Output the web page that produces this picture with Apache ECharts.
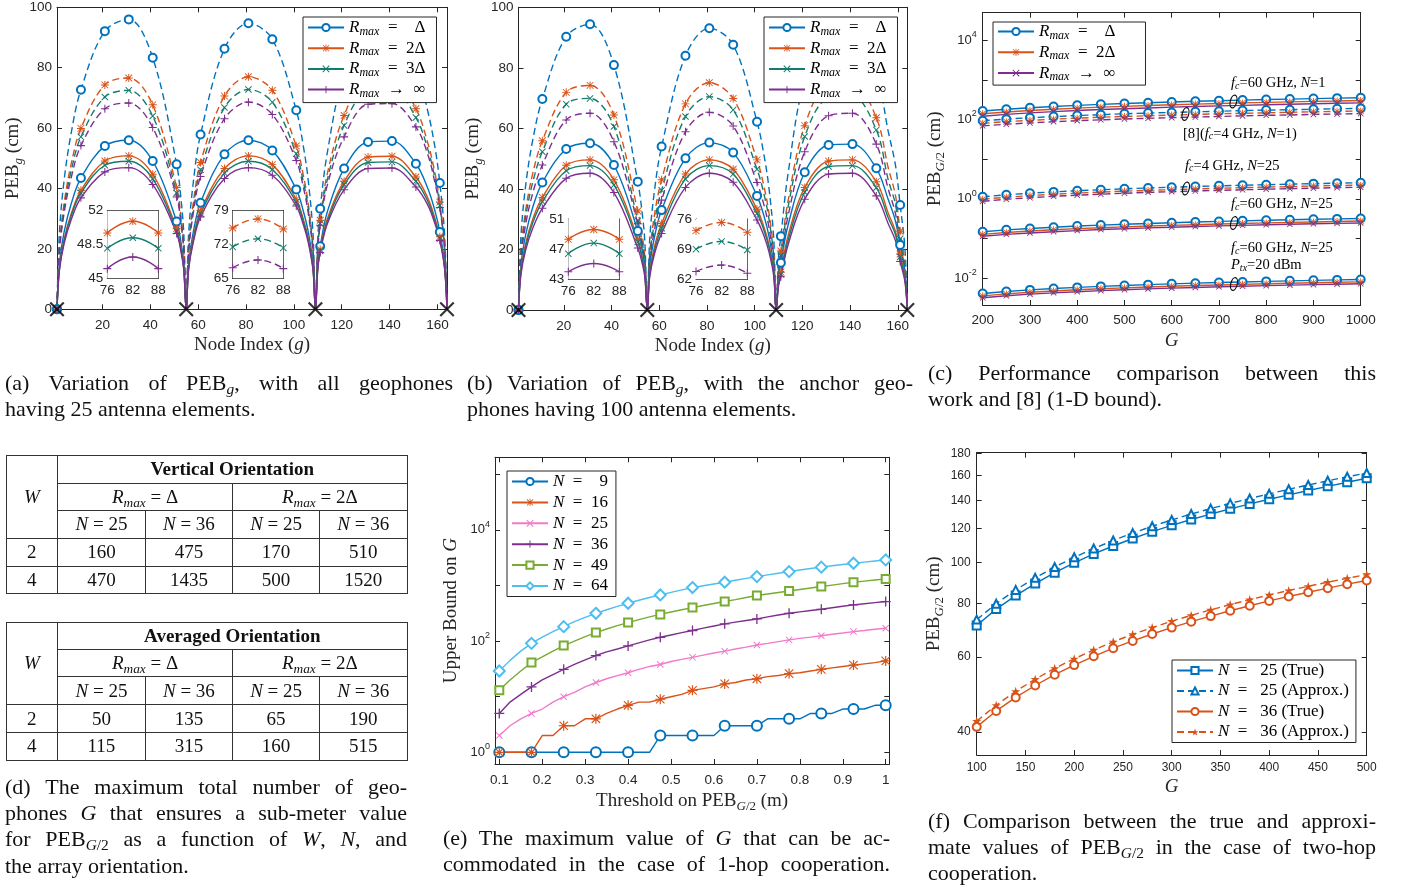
<!DOCTYPE html>
<html>
<head>
<meta charset="utf-8">
<script src="https://cdn.jsdelivr.net/npm/echarts@6/dist/echarts.min.js"></script>
<style>
html,body{margin:0;padding:0;background:#fff;width:1404px;height:888px;overflow:hidden;}
#chart{position:absolute;left:0;top:0;width:1404px;height:888px;}
.cap{position:absolute;font-family:'Liberation Serif','Times New Roman',serif;font-size:22px;line-height:26.4px;color:#111;}
.cap div{white-space:nowrap;}
.cap .j{text-align:justify;text-align-last:justify;}
.cap sub,.tb sub{font-size:0.7em;vertical-align:-0.28em;line-height:0;}
.tb{position:absolute;border-collapse:collapse;font-family:'Liberation Serif','Times New Roman',serif;font-size:19px;color:#111;table-layout:fixed;}
.tb td{border:1.3px solid #333;text-align:center;padding:0;}
</style>
</head>
<body>
<div id="chart"></div>
<div id="tables"></div>

<div class="cap" style="left:5px;top:369.5px;width:448px">
 <div class="j">(a) Variation of PEB<sub><i>g</i></sub>, with all geophones</div>
 <div>having 25 antenna elements.</div>
</div>
<div class="cap" style="left:467px;top:369.5px;width:446px">
 <div class="j">(b) Variation of PEB<sub><i>g</i></sub>, with the anchor geo-</div>
 <div>phones having 100 antenna elements.</div>
</div>
<div class="cap" style="left:928px;top:359.5px;width:448px">
 <div class="j">(c) Performance comparison between this</div>
 <div>work and [8] (1-D bound).</div>
</div>
<div class="cap" style="left:5px;top:773.5px;width:402px">
 <div class="j">(d) The maximum total number of geo-</div>
 <div class="j">phones <i>G</i> that ensures a sub-meter value</div>
 <div class="j">for PEB<sub><i>G</i>/2</sub> as a function of <i>W</i>, <i>N</i>, and</div>
 <div>the array orientation.</div>
</div>
<div class="cap" style="left:443px;top:824.5px;width:447px">
 <div class="j">(e) The maximum value of <i>G</i> that can be ac-</div>
 <div class="j">commodated in the case of 1-hop cooperation.</div>
</div>
<div class="cap" style="left:928px;top:807.5px;width:448px">
 <div class="j">(f) Comparison between the true and approxi-</div>
 <div class="j">mate values of PEB<sub><i>G</i>/2</sub> in the case of two-hop</div>
 <div>cooperation.</div>
</div>

<script>
// ===================== DATA =====================
// (a),(b): node index grid (markers every 10 nodes), anchors
const NODE_X = [1,2,4,7,11,21,31,41,51,53,54,55,56,58,61,71,81,91,101,104,106,108,109,110,111,114,121,131,141,151,156,159,161,163,164];
const ANCHORS = [1,55,109,164];
// (a) dashed
const A_DB = [0,25.2,42.9,58.7,72.7,92.1,96.0,83.3,48.0,35.1,24.9,0,24.8,42.3,57.9,86.3,94.7,89.4,65.9,53.8,42.7,25.0,0,23.8,33.3,52.0,78,93,94,80,65.5,53.5,41.8,24.6,0];
const A_DO = [0,20.7,35.3,48.4,59.9,74.3,76.6,67.7,40.3,29.5,20.9,0,20.8,35.5,48.6,70.6,77.0,72.5,54.1,44.2,35.1,20.6,0,21.1,29.5,45.0,64.2,77.0,77.5,66.4,55.0,45.0,35.5,20.9,0];
const A_DG = [0,19.8,33.7,46.1,57.1,70.3,72.5,64.0,38.5,28.1,20.0,0,19.8,33.7,46.2,66.8,72.8,68.6,51.5,42.1,33.4,19.6,0,20.3,28.4,43.0,60.9,72.5,73.0,63.5,53.0,43.3,34.4,20.2,0];
const A_DP = [0,18.8,32.0,43.8,54.2,66.4,68.3,60.2,37.2,27.2,19.3,0,18.9,32.1,44.0,63.1,68.6,64.5,49.3,40.3,31.9,18.7,0,19.8,27.8,41.2,57.1,67.9,68.1,60.4,51.2,41.8,33.7,19.8,0];
// (a) solid
const A_SB = [0,15.1,25.7,35.1,43.5,54.1,56.0,49.1,29.1,21.3,15.1,0,15.1,25.8,35.3,51.3,56.0,52.6,39.7,32.4,25.7,15.1,0,14.9,20.9,32.3,46.6,55.4,55.7,48.2,40.0,32.5,25.6,15.1,0];
const A_SO = [0,13.6,23.2,31.8,39.4,49.1,50.8,44.7,26.7,19.5,13.9,0,14.0,23.8,32.6,46.6,50.8,47.9,36.4,29.7,23.6,13.8,0,14.1,19.8,30.0,42.4,50.4,50.7,43.8,36.8,30.0,24.0,14.1,0];
const A_SG = [0,13.3,22.7,31.1,38.5,47.7,49.0,43.2,25.9,18.9,13.4,0,13.6,23.1,31.7,45.1,49.0,46.3,35.5,29.0,23.0,13.5,0,13.8,19.3,29.2,41.3,48.6,48.8,42.4,35.7,29.2,23.4,13.8,0];
const A_SP = [0,12.8,21.8,29.8,36.9,45.5,46.9,41.3,25.1,18.3,13.0,0,13.1,22.3,30.6,43.3,46.9,44.4,34.2,27.9,22.2,13.0,0,13.4,18.8,28.3,39.6,46.6,46.8,40.5,34.5,28.2,22.8,13.4,0];
// (b) dashed
const B_DB = [0,24.1,41.1,56.3,69.7,90.3,94.4,80.9,42.4,31.0,22.0,0,23.2,39.4,54.0,84.0,93.1,87.6,62.2,50.8,40.3,23.6,0,17.4,24.4,45.0,76,91,92,78,59,48,34.7,20.4,0];
const B_DO = [0,19.3,33.0,45.2,55.9,71.9,74.2,64.4,32.7,23.9,17.0,0,18.4,31.4,43.0,68.1,75.1,69.9,49.6,40.5,32.1,18.8,0,13.9,19.5,36.0,60.9,74.5,75.0,63.5,47,38,26.0,15.3,0];
const B_DG = [0,18.1,30.9,42.3,52.3,68.0,69.9,60.6,29.5,21.6,15.3,0,17.0,28.9,39.6,63.9,70.5,66.1,46.5,38.0,30.1,17.7,0,12.9,18.0,34.0,57.3,70.0,70.5,59.5,43,35,23.5,13.8,0];
const B_DP = [0,16.6,28.3,38.7,47.9,62.8,65.0,55.6,28.5,20.8,14.8,0,15.6,26.5,36.3,58.9,65.3,60.8,42.1,34.4,27.3,16.0,0,11.8,16.5,31.0,52.3,64.2,65.0,54.8,40,32,21.5,12.6,0];
// (b) solid
const B_SB = [0,14.6,24.8,34.0,42.1,53.2,55.1,47.9,26.1,19.1,13.5,0,14.2,24.1,33.0,50.1,55.3,52.0,37.7,30.8,24.4,14.3,0,11.1,15.6,28.0,45.5,54.5,54.8,46.8,36.5,29.5,21.5,12.6,0];
const B_SO = [0,12.9,21.9,30.1,37.2,47.8,49.6,43.0,23.5,17.2,12.2,0,12.3,20.9,28.6,44.9,49.6,46.5,33.3,27.2,21.6,12.7,0,8.9,12.5,24.5,40.5,49.2,49.6,42.4,32,26,18.5,10.9,0];
const B_SG = [0,12.4,21.1,28.9,35.8,46.0,47.7,41.3,22.5,16.4,11.7,0,11.6,19.7,27.0,43.3,47.7,44.9,31.9,26.1,20.7,12.1,0,8.4,11.8,23.0,38.9,47.4,47.7,40.4,30.5,25,17.5,10.3,0];
const B_SP = [0,11.6,19.8,27.1,33.6,43.5,45.2,38.8,20.5,15.0,10.6,0,10.9,18.5,25.3,40.5,45.2,42.2,29.7,24.3,19.2,11.3,0,7.9,11.0,21.5,36.6,44.9,45.2,37.7,28.5,23,16.0,9.4,0];
// insets (zoom on node 76..88)
const INSET_X = [76,82,88];
const IA_SO = [49.7,50.9,49.7], IA_SG = [48.1,49.2,48.1], IA_SP = [46.0,47.2,46.0];
const IA_DO = [75.4,77.3,75.2], IA_DG = [71.5,73.2,71.3], IA_DP = [67.2,68.8,67.0];
const IB_SO = [48.3,49.6,48.3], IB_SG = [46.4,47.8,46.4], IB_SP = [44.0,45.1,44.0];
const IB_DO = [73.3,75.2,72.9], IB_DG = [69.0,70.8,68.8], IB_DP = [63.8,65.3,63.4];

// (c)
const C_G = [200,250,300,350,400,450,500,550,600,650,700,750,800,850,900,950,1000];
const C1_B = [163,181,198,213,227,240,252,264,276,287,297,307,317,326,335,344,353];
const C1_O = [139,154,168,181,193,204,214,224,235,244,252,261,269,277,285,292,300];
const C1_P = [121,134,147,158,168,178,186,195,204,212,220,227,235,241,248,255,261];
const C2_B = [93,102,111,118,126,132,139,145,150,156,161,167,172,176,181,186,190];
const C2_O = [80,88,95,102,108,114,119,124,129,134,139,143,147,152,156,160,163];
const C2_P = [69,76,82,88,93,98,103,107,111,115,119,123,127,130,134,137,141];
const C3_B = [1.13,1.27,1.39,1.50,1.61,1.70,1.80,1.89,1.97,2.05,2.13,2.21,2.28,2.35,2.42,2.49,2.55];
const C3_O = [0.98,1.10,1.21,1.31,1.40,1.48,1.57,1.64,1.71,1.78,1.85,1.92,1.98,2.04,2.11,2.17,2.22];
const C3_P = [0.87,0.98,1.07,1.16,1.24,1.31,1.39,1.46,1.52,1.58,1.64,1.70,1.76,1.81,1.86,1.92,1.96];
const C4_B = [0.149,0.166,0.180,0.194,0.207,0.219,0.230,0.241,0.251,0.261,0.271,0.280,0.289,0.298,0.306,0.314,0.322];
const C4_O = [0.128,0.143,0.155,0.167,0.178,0.188,0.198,0.207,0.216,0.224,0.233,0.241,0.249,0.256,0.263,0.270,0.277];
const C4_P = [0.115,0.128,0.139,0.149,0.159,0.169,0.177,0.186,0.193,0.201,0.209,0.216,0.223,0.229,0.236,0.242,0.248];
const C5_B = [0.00416,0.00466,0.00511,0.00553,0.00591,0.00627,0.00661,0.00694,0.00725,0.00755,0.00784,0.00811,0.00838,0.00864,0.00889,0.00913,0.00937];
const C5_O = [0.00362,0.00405,0.00445,0.00481,0.00514,0.00545,0.00575,0.00604,0.00631,0.00657,0.00682,0.00706,0.00729,0.00752,0.00773,0.00794,0.00815];
const C5_P = [0.00324,0.00363,0.00399,0.00431,0.00461,0.00489,0.00516,0.00541,0.00566,0.00589,0.00612,0.00633,0.00654,0.00674,0.00693,0.00712,0.00731];

// (e)
const E_TH = [0.1,0.125,0.15,0.175,0.2,0.225,0.25,0.275,0.3,0.325,0.35,0.375,0.4,0.425,0.45,0.475,0.5,0.525,0.55,0.575,0.6,0.625,0.65,0.675,0.7,0.725,0.75,0.775,0.8,0.825,0.85,0.875,0.9,0.925,0.95,0.975,1.0];
const E_N9  = [1,1,1,1,1,1,1,1,1,1,1,1,1,1,1,2,2,2,2,2,2,3,3,3,3,4,4,4,4,5,5,5,6,6,6,7,7];
const E_N16 = [1,1,1,1,2,2,3,3,4,4,5,6,7,8,8,9,10,11,13,14,15,17,18,20,21,23,24,26,27,29,31,33,35,37,39,41,44];
const E_N25 = [2,3,4,5,6,8,10,12,15,18,21,24,27,31,35,38,43,47,51,56,61,66,72,78,85,91,98,105,112,118,125,133,140,148,155,163,170];
const E_N36 = [5,8,11,15,20,25,31,38,46,55,64,72,82,93,105,117,129,142,155,171,187,204,219,234,250,272,294,316,335,354,373,398,423,448,470,492,514];
const E_N49 = [13,20,29,41,52,66,83,100,120,142,165,190,215,243,272,302,333,366,400,437,475,514,558,607,659,703,749,797,849,902,957,1017,1080,1146,1200,1255,1313];
const E_N64 = [29,45,66,91,118,148,182,223,268,316,366,420,479,542,607,676,753,833,917,990,1066,1146,1240,1340,1444,1550,1662,1778,1895,2015,2138,2260,2385,2512,2635,2760,2884];
const E_XTICKS = [0.1,0.2,0.3,0.4,0.5,0.6,0.7,0.8,0.9,1];

// (f)
const F_G = [100,120,140,160,180,200,220,240,260,280,300,320,340,360,380,400,420,440,460,480,500];
const F_N25_TRUE   = [71.1,77.7,83.6,89.2,94.6,99.8,104.7,109.3,113.8,118.1,122.2,126.1,129.9,133.6,137.2,140.7,144.1,147.5,150.9,154.3,157.6];
const F_N25_APPROX = [73.4,80.0,86.2,92.0,97.5,102.8,107.8,112.6,117.2,121.6,125.8,129.9,133.8,137.6,141.3,144.9,148.5,152.0,155.5,158.9,162.2];
const F_N36_TRUE   = [41.1,44.8,48.2,51.4,54.5,57.4,60.2,62.9,65.4,67.9,70.3,72.6,74.8,77.0,79.1,81.2,83.2,85.1,87.0,88.9,90.7];
const F_N36_APPROX = [42.4,46.2,49.8,53.2,56.4,59.4,62.3,65.1,67.8,70.3,72.8,75.1,77.4,79.6,81.8,83.9,85.9,87.9,89.9,91.8,93.7];
const F_YTICKS = [40,60,80,100,120,140,160,180];

// (d) tables
const TAB_W = [2,4];
const TAB_R = ['Δ','2Δ'];
const TAB_N = [25,36,25,36];
const TAB_VERT = [[160,475,170,510],[470,1435,500,1520]];
const TAB_AVG  = [[50,135,65,190],[115,315,160,515]];

// ===================== STYLE =====================
const BLUE='#0072BD', ORANGE='#D95319', TEAL='#137C6C', PURPLE='#7E2F8E', GREEN='#77AC30', CYAN='#4DBEEE', PINK='#F27ACB';
const AX='#262626';
const SANS="'Liberation Sans', Arial, sans-serif";
const SERIF="'Liberation Serif', 'Times New Roman', serif";
const SYM_PLUS='path://M4.35,0H5.65V10H4.35Z M0,4.35H10V5.65H0Z';
const SYM_X='path://M1,0L5,4L9,0L10,1L6,5L10,9L9,10L5,6L1,10L0,9L4,5L0,1Z';
const SYM_AST='path://M4.4,0H5.6V10H4.4Z M0,4.4H10V5.6H0Z M1.2,0.4L9.6,8.8L8.8,9.6L0.4,1.2Z M8.8,0.4L9.6,1.2L1.2,9.6L0.4,8.8Z';
const SYM_STAR='path://M5,0L6.2,3.6L10,3.6L6.9,5.9L8.1,9.5L5,7.3L1.9,9.5L3.1,5.9L0,3.6L3.8,3.6Z';

const grids=[], xAxes=[], yAxes=[], series=[], legends=[], graphics=[];
const nameRich = {
  t:{fontFamily:SERIF,fontSize:19,lineHeight:24,color:AX},
  i:{fontFamily:SERIF,fontStyle:'italic',fontSize:19,lineHeight:24,color:AX},
  s:{fontFamily:SERIF,fontStyle:'italic',fontSize:13,lineHeight:13,verticalAlign:'bottom',color:AX},
  u:{fontFamily:SERIF,fontSize:13,lineHeight:13,verticalAlign:'bottom',color:AX}
};
const supRich = {
  b:{fontFamily:SANS,fontSize:13,lineHeight:20,color:AX},
  p:{fontFamily:SANS,fontSize:9,lineHeight:9,verticalAlign:'top',color:AX}
};
function logFmt(v){
  const e=Math.log10(v), r=Math.round(e);
  if (Math.abs(e-r)>1e-6 || r%2!==0) return '';
  return '{b|10}{p|'+r+'}';
}
const plainFmt=(v)=>String(+(+v).toFixed(3));

function makeAxis(g,pos,s,primary){
  const a={gridIndex:g,position:pos,type:s.type||'value',min:s.min,max:s.max,
    axisLine:{show:true,onZero:false,lineStyle:{color:AX,width:1}},
    axisTick:{show:true,inside:true,length:s.tickLen||5,lineStyle:{color:AX,width:1}},
    splitLine:{show:false},minorTick:{show:false},
    axisLabel:{show:primary,color:AX,fontFamily:SANS,fontSize:s.fs||13.5,margin:s.margin||6,hideOverlap:false,formatter:plainFmt},
    silent:true,z:s.z||0};
  if (s.type==='log') a.logBase=10;
  if (s.interval!=null) a.interval=s.interval;
  if (s.ticks){a.axisTick.customValues=s.ticks;a.axisLabel.customValues=s.ticks;}
  if (s.fmt) a.axisLabel.formatter=s.fmt;
  if (s.rich) a.axisLabel.rich=s.rich;
  if (primary && s.name){a.name=s.name;a.nameLocation='middle';a.nameGap=s.nameGap;
    a.nameTextStyle={rich:nameRich,color:AX}; if(pos==='left') a.nameRotate=90;}
  return a;
}
function addPanel(left,top,width,height,xs,ys,bg){
  grids.push({left,top,width,height,containLabel:false,show:!!bg,backgroundColor:bg||'transparent',borderWidth:0,z:bg?3:0});
  const g=grids.length-1;
  const xi=xAxes.length, yi=yAxes.length;
  xAxes.push(makeAxis(g,'bottom',xs,true)); xAxes.push(makeAxis(g,'top',xs,false));
  yAxes.push(makeAxis(g,'left',ys,true)); yAxes.push(makeAxis(g,'right',ys,false));
  return {x:xi,y:yi};
}
function line(box,xs,ys,o){
  const data=xs.map((x,i)=>o.mark(x,i)?[x,ys[i]]:{value:[x,ys[i]],symbol:'none'});
  series.push({type:'line',name:o.name,xAxisIndex:box.x,yAxisIndex:box.y,data,
    smooth:o.smooth||false,symbol:o.sym,symbolSize:o.size,showAllSymbol:true,
    lineStyle:{color:o.color,width:1.4,type:o.dash?[7,4]:'solid'},
    itemStyle:{color:o.color,borderColor:o.color,borderWidth:o.bw||0},
    emphasis:{disabled:true},z:o.z||2,clip:true});
}
const RM=[{c:BLUE,s:'emptyCircle',z:8,bw:1.2},{c:ORANGE,s:SYM_AST,z:8,bw:0},{c:TEAL,s:SYM_X,z:7,bw:0},{c:PURPLE,s:SYM_PLUS,z:8,bw:0}];
const isNodeMarker=(x)=>(x-1)%10===0;
const all=()=>true;

const LEG={};
const legRich={
  it:{fontFamily:SERIF,fontStyle:'italic',fontSize:17,lineHeight:20,color:'#000'},
  sub:{fontFamily:SERIF,fontStyle:'italic',fontSize:12,lineHeight:12,verticalAlign:'bottom',color:'#000'},
  tx:{fontFamily:SERIF,fontSize:17,lineHeight:20,color:'#000'}
};
function addLegend(names,left,top,gap,pad){
  legends.push({show:true,orient:'vertical',left,top,itemGap:gap,itemWidth:36,itemHeight:9,padding:pad,
    backgroundColor:'#fff',borderColor:AX,borderWidth:1,borderRadius:0,selectedMode:false,align:'left',
    data:names,formatter:(n)=>LEG[n],textStyle:{fontFamily:SERIF,fontSize:17,color:'#000',rich:legRich},z:6});
}

// ---------- panels (a) and (b) ----------
function panelAB(p,L,T,W,H,dash,solid,inset1,inset2,ins){
  const xName='{t|Node Index (}{i|g}{t|)}';
  const box=addPanel(L,T,W,H,
    {min:1,max:164,ticks:[20,40,60,80,100,120,140,160],margin:9,name:xName,nameGap:24},
    {min:0,max:100,interval:20,margin:5,name:'{t|PEB}{s|g}{t| (cm)}',nameGap:p==='a'?32:33});
  for(let k=0;k<4;k++){
    line(box,NODE_X,dash[k],{name:p+'D'+k,mark:isNodeMarker,sym:RM[k].s,size:RM[k].z,color:RM[k].c,bw:RM[k].bw,dash:true,smooth:0.35});
  }
  for(let k=0;k<4;k++){
    line(box,NODE_X,solid[k],{name:p+'S'+k,mark:isNodeMarker,sym:RM[k].s,size:RM[k].z,color:RM[k].c,bw:RM[k].bw,smooth:0.35});
  }
  series.push({type:'scatter',xAxisIndex:box.x,yAxisIndex:box.y,data:ANCHORS.map(x=>[x,0]),
    symbol:SYM_X,symbolSize:15,itemStyle:{color:'#000'},z:6,clip:false,emphasis:{disabled:true}});
  // insets
  const b1=addPanel(ins[0][0],ins[0][1],ins[0][2],ins[0][3],{min:76,max:88,interval:6,tickLen:3,margin:5},
    {min:inset1.min,max:inset1.max,interval:inset1.iv,tickLen:3,margin:4},'#fff');
  const b2=addPanel(ins[1][0],ins[1][1],ins[1][2],ins[1][3],{min:76,max:88,interval:6,tickLen:3,margin:5},
    {min:inset2.min,max:inset2.max,interval:inset2.iv,tickLen:3,margin:4},'#fff');
  for(let k=1;k<4;k++){
    line(b1,INSET_X,inset1.d[k-1],{name:p+'I1'+k,mark:all,sym:RM[k].s,size:RM[k].z,color:RM[k].c,bw:RM[k].bw,smooth:0.5,z:5});
    line(b2,INSET_X,inset2.d[k-1],{name:p+'I2'+k,mark:all,sym:RM[k].s,size:RM[k].z,color:RM[k].c,bw:RM[k].bw,smooth:0.5,dash:true,z:5});
  }
  LEG[p+'S0']='{it|R}{sub|max}{tx|  =    Δ}';
  LEG[p+'S1']='{it|R}{sub|max}{tx|  =  2Δ}';
  LEG[p+'S2']='{it|R}{sub|max}{tx|  =  3Δ}';
  LEG[p+'S3']='{it|R}{sub|max}{tx|  →  ∞}';
}
panelAB('a',57,7.3,390,302,[A_DB,A_DO,A_DG,A_DP],[A_SB,A_SO,A_SG,A_SP],
  {min:45,max:52,iv:3.5,d:[IA_SO,IA_SG,IA_SP]},{min:65,max:79,iv:7,d:[IA_DO,IA_DG,IA_DP]},
  [[107.3,210.7,51,67.6],[232.7,210.7,50.6,67.6]]);
panelAB('b',518.5,7.3,388.8,302.7,[B_DB,B_DO,B_DG,B_DP],[B_SB,B_SO,B_SG,B_SP],
  {min:43,max:51,iv:4,d:[IB_SO,IB_SG,IB_SP]},{min:62,max:76,iv:7,d:[IB_DO,IB_DG,IB_DP]},
  [[568.3,219,51,60.3],[696,219,51.3,60.3]]);
addLegend(['aS0','aS1','aS2','aS3'],303,17,2.2,[2,11,3,4]);
addLegend(['bS0','bS1','bS2','bS3'],764,17,2.2,[2,11,3,4]);

// ---------- panel (c) ----------
const boxC=addPanel(982.7,12.7,378,292.3,
  {min:200,max:1000,interval:100,margin:8,name:'{i|G}',nameGap:24},
  {type:'log',min:0.00213,max:48800,fmt:logFmt,rich:supRich,margin:6,name:'{t|PEB}{s|G}{u|/2}{t| (cm)}',nameGap:36});
const cSty=[{c:BLUE,s:'emptyCircle',z:8,bw:1.1},{c:ORANGE,s:SYM_AST,z:7,bw:0},{c:PURPLE,s:SYM_X,z:6,bw:0}];
const cGroups=[[C1_B,C1_O,C1_P,false],[C2_B,C2_O,C2_P,true],[C3_B,C3_O,C3_P,true],[C4_B,C4_O,C4_P,false],[C5_B,C5_O,C5_P,false]];
cGroups.forEach((gr,gi)=>{
  for(let k=0;k<3;k++){
    line(boxC,C_G,gr[k],{name:'c'+gi+'_'+k,mark:all,sym:cSty[k].s,size:cSty[k].z,color:cSty[k].c,bw:cSty[k].bw,dash:gr[3]});
  }
});
LEG['c0_0']='{it|R}{sub|max}{tx|  =    Δ}';
LEG['c0_1']='{it|R}{sub|max}{tx|  =  2Δ}';
LEG['c0_2']='{it|R}{sub|max}{tx|  →  ∞}';
addLegend(['c0_0','c0_1','c0_2'],993,22,2.3,[1,30,2,4]);
const annRich={
  t:{fontFamily:SERIF,fontSize:14.5,color:'#111'},
  i:{fontFamily:SERIF,fontStyle:'italic',fontSize:14.5,color:'#111'},
  s:{fontFamily:SERIF,fontStyle:'italic',fontSize:10,lineHeight:10,verticalAlign:'bottom',color:'#111'}
};
[
 [1231,83.5,'{i|f}{s|c}{t|=60 GHz, }{i|N}{t|=1}'],
 [1183,134,'{t|[8](}{i|f}{s|c}{t|=4 GHz, }{i|N}{t|=1)}'],
 [1185,166,'{i|f}{s|c}{t|=4 GHz, }{i|N}{t|=25}'],
 [1231,204.5,'{i|f}{s|c}{t|=60 GHz, }{i|N}{t|=25}'],
 [1231,248.5,'{i|f}{s|c}{t|=60 GHz, }{i|N}{t|=25}'],
 [1231,265.5,'{i|P}{s|tx}{t|=20 dBm}']
].forEach(a=>graphics.push({type:'text',x:a[0],y:a[1],z:20,style:{text:a[2],rich:annRich,verticalAlign:'middle',align:'left'}}));
[[1233.5,101.5],[1185.5,114],[1186,188.5],[1234,223],[1234,284]].forEach(p=>graphics.push(
  {type:'ellipse',shape:{cx:p[0],cy:p[1],rx:3.2,ry:6.5},rotation:-0.25,originX:p[0],originY:p[1],
   style:{fill:'none',stroke:'#111',lineWidth:1.2},z:20}));

// ---------- panel (e) ----------
const boxE=addPanel(495,457.3,394.3,306.7,
  {min:0.09,max:1.0084,ticks:E_XTICKS,margin:9,
   name:'{t|Threshold on PEB}{s|G}{u|/2}{t| (m)}',nameGap:25},
  {type:'log',min:0.616,max:202000,fmt:logFmt,rich:supRich,margin:5,name:'{t|Upper Bound on }{i|G}',nameGap:32});
const eSer=[[E_N9,BLUE,'emptyCircle',10,1.2,'9'],[E_N16,ORANGE,SYM_AST,10,0,'16'],[E_N25,PINK,SYM_X,7,0,'25'],
  [E_N36,PURPLE,SYM_PLUS,10,0,'36'],[E_N49,GREEN,'emptyRect',8,1.2,'49'],[E_N64,CYAN,'emptyDiamond',11,1.2,'64']];
eSer.forEach((s,k)=>{
  line(boxE,E_TH,s[0],{name:'e'+k,mark:(x,i)=>i%3===0,sym:s[2],size:s[3],color:s[1],bw:s[4]});
  LEG['e'+k]='{it|N}{tx|  =  '+s[5].padStart(2,'\u2007')+'}';
});
addLegend(['e0','e1','e2','e3','e4','e5'],507,471,3.9,[2,8,2,4]);

// ---------- panel (f) ----------
const boxF=addPanel(976.7,452.7,390,302.3,
  {min:100,max:500,interval:50,fs:12,margin:7,name:'{i|G}',nameGap:20},
  {type:'log',min:35.3,max:181,ticks:F_YTICKS,fs:12,margin:6,name:'{t|PEB}{s|G}{u|/2}{t| (cm)}',nameGap:31});
line(boxF,F_G,F_N25_TRUE,{name:'f0',mark:all,sym:'emptyRect',size:8,color:BLUE,bw:1.2});
line(boxF,F_G,F_N25_APPROX,{name:'f1',mark:all,sym:'emptyTriangle',size:8,color:BLUE,bw:1.2,dash:true});
line(boxF,F_G,F_N36_TRUE,{name:'f2',mark:all,sym:'emptyCircle',size:8,color:ORANGE,bw:1.2});
line(boxF,F_G,F_N36_APPROX,{name:'f3',mark:all,sym:SYM_STAR,size:9,color:ORANGE,bw:0,dash:true});
LEG['f0']='{it|N}{tx|  =   25 (True)}';
LEG['f1']='{it|N}{tx|  =   25 (Approx.)}';
LEG['f2']='{it|N}{tx|  =   36 (True)}';
LEG['f3']='{it|N}{tx|  =   36 (Approx.)}';
addLegend(['f0','f1','f2','f3'],1172,660,3.5,[2,7,2,4]);

// ===================== CHART =====================
const chart=echarts.init(document.getElementById('chart'),null,{renderer:'canvas'});
chart.setOption({
  animation:false,
  backgroundColor:'#fff',
  textStyle:{fontFamily:SANS},
  grid:grids, xAxis:xAxes, yAxis:yAxes, series, legend:legends, graphic:graphics,
  tooltip:{show:false}
});

// ===================== TABLES =====================
function buildTable(title,vals,left,top){
  const cw=[51.6,87.7,87.3,87,87.4], rh=[27.7,27.3,27.7,28,27.6];
  let h='<table class="tb" style="left:'+left+'px;top:'+top+'px;width:401px"><colgroup>'+cw.map(w=>'<col style="width:'+w+'px">').join('')+'</colgroup>';
  h+='<tr style="height:'+rh[0]+'px"><td rowspan="3"><i>W</i></td><td colspan="4"><b>'+title+'</b></td></tr>';
  h+='<tr style="height:'+rh[1]+'px">'+TAB_R.map(r=>'<td colspan="2"><i>R</i><sub><i>max</i></sub> = '+r+'</td>').join('')+'</tr>';
  h+='<tr style="height:'+rh[2]+'px">'+TAB_N.map(n=>'<td><i>N</i> = '+n+'</td>').join('')+'</tr>';
  vals.forEach((row,i)=>{h+='<tr style="height:'+rh[3+i]+'px"><td>'+TAB_W[i]+'</td>'+row.map(v=>'<td>'+v+'</td>').join('')+'</tr>';});
  return h+'</table>';
}
document.getElementById('tables').innerHTML=buildTable('Vertical Orientation',TAB_VERT,5.5,455)+buildTable('Averaged Orientation',TAB_AVG,5.5,621.5);
</script>
</body>
</html>
